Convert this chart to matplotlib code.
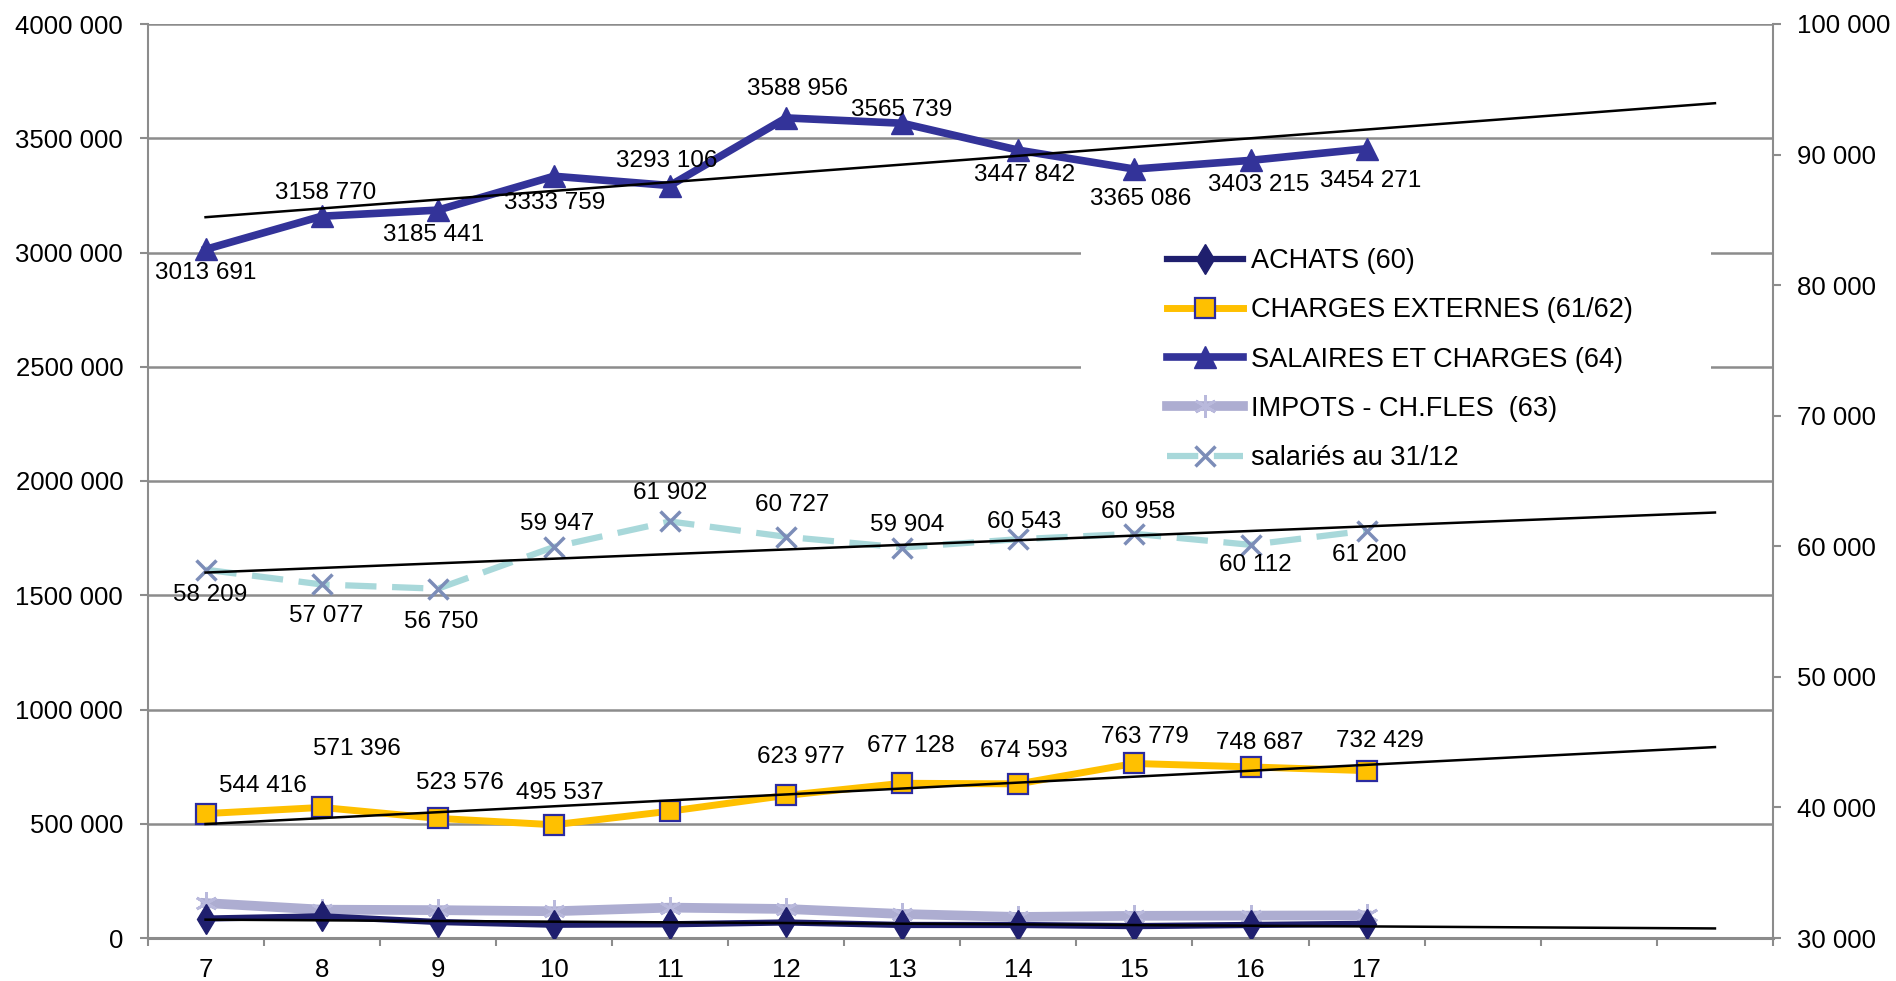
import matplotlib
matplotlib.use('Agg')
import matplotlib.pyplot as plt
import numpy as np
from matplotlib.patches import Rectangle
from matplotlib.ticker import FuncFormatter

plt.rcParams['font.family'] = ['Liberation Sans', 'DejaVu Sans']

# ---------------- data ----------------
categories = ['7', '8', '9', '10', '11', '12', '13', '14', '15', '16', '17']
n_empty = 3  # empty categories at the right of the axis
achats = [85000, 95000, 70000, 58000, 60000, 68000, 57000, 57000, 52000, 57000, 62000]
charges_externes = [544416, 571396, 523576, 495537, 555000, 623977, 677128, 674593, 763779, 748687, 732429]
charges_labelled = [True, True, True, True, False, True, True, True, True, True, True]
salaires = [3013691, 3158770, 3185441, 3333759, 3293106, 3588956, 3565739, 3447842, 3365086, 3403215, 3454271]
impots = [153000, 124000, 122000, 117000, 133000, 127000, 105000, 92000, 97000, 98000, 99000]
salaries = [58209, 57077, 56750, 59947, 61902, 60727, 59904, 60543, 60958, 60112, 61200]
left_ticks = list(range(0, 4000001, 500000))
right_ticks = list(range(30000, 100001, 10000))
legend_labels = ['ACHATS (60)', 'CHARGES EXTERNES (61/62)', 'SALAIRES ET CHARGES (64)',
                 'IMPOTS - CH.FLES  (63)', 'salariés au 31/12']

# label offsets in pixels (dx, dy up)
sal_off = [(0, -24), (4, 23), (-4, -25), (1, -27), (-3, 25), (11, 29), (-1, 13),
           (6, -25), (6, -30), (8, -25), (4, -32)]
sar_off = [(5, -25), (5, -32), (3, -33), (3, 23), (0, 28), (6, 32), (5, 23),
           (6, 17), (4, 22), (5, -20), (3, -24)]
chg_off = [(57, 28), (35, 58), (22, 35), (6, 32), (0, 0), (15, 38), (9, 37),
           (6, 33), (10, 26), (9, 24), (13, 30)]


def fmt(v, pos=None):
    v = int(round(v))
    if v < 1000:
        return str(v)
    return f"{v // 1000} {v % 1000:03d}"


W, H = 1896, 981
fig = plt.figure(figsize=(W / 100, H / 100), dpi=100)
L, R, T, B = 147.5, 1773, 24, 938
ax = fig.add_axes([L / W, 1 - B / H, (R - L) / W, (B - T) / H])
ax2 = ax.twinx()

GRID = '#8C8C8C'
TICK_FS = 18.5
LABEL_FS = 17.5
LEG_FS = 19.5

x = np.arange(len(categories))
ntot = len(categories) + n_empty
ax.set_xlim(-0.5, ntot - 0.5)
ax.set_xticks(x)
ax.set_xticklabels(categories)
ax.set_xticks(np.arange(-0.5, ntot), minor=True)
ax.tick_params(axis='x', which='major', length=0, pad=14.5, labelsize=TICK_FS)
ax.tick_params(axis='x', which='minor', length=6, width=1.5, color=GRID, direction='out')

ax.set_ylim(0, 4000000)
ax.set_yticks(left_ticks)
ax.yaxis.set_major_formatter(FuncFormatter(fmt))
ax.tick_params(axis='y', length=5.5, width=1.5, color=GRID, labelsize=TICK_FS, pad=12)
ax.yaxis.grid(True, color=GRID, lw=1.8)
ax.set_axisbelow(True)

ax2.set_ylim(30000, 100000)
ax2.set_yticks(right_ticks)
ax2.yaxis.set_major_formatter(FuncFormatter(fmt))
ax2.tick_params(axis='y', length=5.5, width=1.5, color=GRID, labelsize=TICK_FS, pad=12)

for a in (ax, ax2):
    a.spines['top'].set_visible(False)
    for s in ('left', 'right', 'bottom'):
        a.spines[s].set_color(GRID)
        a.spines[s].set_linewidth(1.5)
ax.spines['bottom'].set_linewidth(2.2)
ax2.spines['bottom'].set_visible(False)
ax2.spines['left'].set_visible(False)
ax.spines['right'].set_visible(False)

# white legend area covering gridlines
ax.add_patch(Rectangle((1081 / W, 1 - 477 / H), (1711 - 1081) / W, (477 - 237) / H,
                       transform=fig.transFigure, facecolor='white', edgecolor='none',
                       zorder=1, clip_on=False))

h_ach, = ax.plot(x, achats, color='#1F1F6E', lw=4.5, marker='d', ms=15,
                 mfc='#1F1F6E', mec='#1F1F6E', zorder=3)
h_chg, = ax.plot(x, charges_externes, color='#FFC000', lw=5, marker='s', ms=15,
                 mfc='#FFC000', mec='#2B2BA0', mew=1.6, zorder=3)
h_sal, = ax.plot(x, salaires, color='#333399', lw=5.5, marker='^', ms=16,
                 mfc='#333399', mec='#333399', zorder=3)
h_imp, = ax.plot(x, impots, color='#ADADD1', lw=7, marker=(6, 2, 0), ms=16,
                 mec='#B9B9DC', mew=2, zorder=2.5)
h_sar, = ax2.plot(x, salaries, color='#A8D8DA', lw=4.5, ls=(0, (5, 2.5)), marker='x',
                  ms=14, mec='#7C8DB8', mew=2.5, zorder=3)

# linear trend lines
xt = np.array([0, ntot - 1])
for series, a in ((salaires, ax), (charges_externes, ax), (achats, ax), (salaries, ax2)):
    coef = np.polyfit(x, series, 1)
    a.plot(xt, np.polyval(coef, xt), color='black', lw=1.8, zorder=4)

# data labels
for i, v in enumerate(salaires):
    ax.annotate(fmt(v), (x[i], v), xytext=sal_off[i], textcoords='offset pixels',
                ha='center', va='center', fontsize=LABEL_FS, zorder=6)
for i, v in enumerate(charges_externes):
    if charges_labelled[i]:
        ax.annotate(fmt(v), (x[i], v), xytext=chg_off[i], textcoords='offset pixels',
                    ha='center', va='center', fontsize=LABEL_FS, zorder=6)
for i, v in enumerate(salaries):
    ax2.annotate(fmt(v), (x[i], v), xytext=sar_off[i], textcoords='offset pixels',
                 ha='center', va='center', fontsize=LABEL_FS, zorder=6)

fig.legend([h_ach, h_chg, h_sal, h_imp, h_sar], legend_labels, loc='upper left',
           bbox_to_anchor=(1167 / W, 1 - 248 / H), frameon=False, fontsize=LEG_FS,
           handlelength=2.8, handletextpad=0.3, labelspacing=0.86,
           borderpad=0, borderaxespad=0, numpoints=1)

fig.savefig('out.png', dpi=100)
